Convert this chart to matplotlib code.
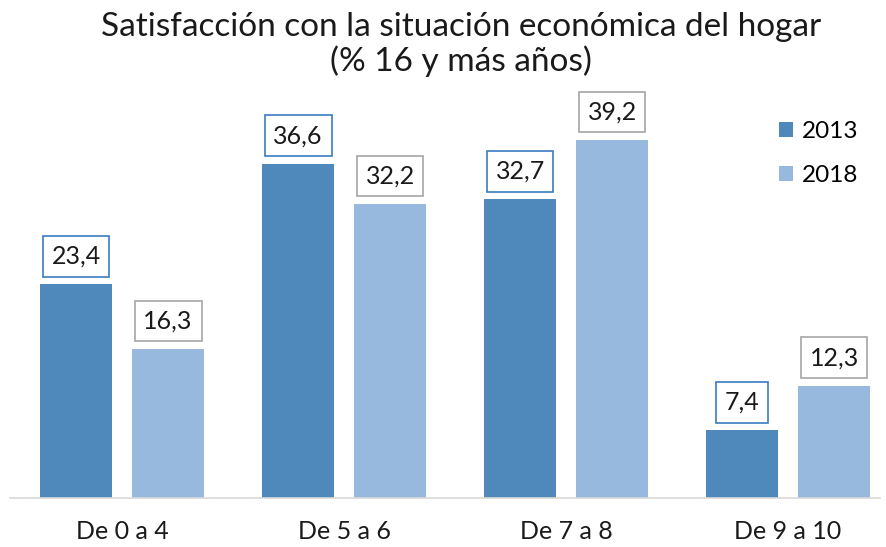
import matplotlib
matplotlib.use("Agg")
import matplotlib.pyplot as plt
import numpy as np

# datos
categorias = ["De 0 a 4", "De 5 a 6", "De 7 a 8", "De 9 a 10"]
valores_2013 = [23.4, 36.6, 32.7, 7.4]
valores_2018 = [16.3, 32.2, 39.2, 12.3]
series = ["2013", "2018"]

plt.rcParams['font.family'] = ['Lato', 'DejaVu Sans']

color_2013 = "#4f88bb"
color_2018 = "#97b9de"

fig = plt.figure(figsize=(8.86, 5.47), dpi=100)
ax = fig.add_axes([10 / 886, 1 - 498 / 547, 870 / 886, 411 / 547])

x = np.arange(len(categorias))
ancho = 72 / 222
sep = 92 / 222 / 2

b1 = ax.bar(x - sep, valores_2013, ancho, color=color_2013, label=series[0])
b2 = ax.bar(x + sep, valores_2018, ancho, color=color_2018, label=series[1])

def etiquetas(barras, borde):
    for r in barras:
        h = r.get_height()
        ax.annotate(f"{h:.1f}".replace(".", ","),
                    (r.get_x() + r.get_width() / 2, h),
                    xytext=(0, 28), textcoords="offset pixels",
                    ha="center", va="center", fontsize=18, color="#1a1a1a",
                    bbox=dict(boxstyle="square,pad=0.35", fc="white", ec=borde, lw=1.2))

etiquetas(b1, "#3a7cc0")
etiquetas(b2, "#a6a6a6")

ax.set_xlim(-0.505, 3.414)
ax.set_ylim(0, 45)
ax.set_xticks(x)
ax.set_xticklabels(categorias, fontsize=18, color="#1a1a1a")
ax.tick_params(axis="x", length=0, pad=16)
ax.set_yticks([])
for s in ["top", "right", "left"]:
    ax.spines[s].set_visible(False)
ax.spines["bottom"].set_color("#d9d9d9")
ax.spines["bottom"].set_linewidth(1.2)

ax.legend(loc="upper right", bbox_to_anchor=(1.0, 0.97), frameon=False, fontsize=17.5,
          handlelength=0.6, handleheight=0.6, handletextpad=0.35, labelspacing=0.95)

fig.suptitle("Satisfacción con la situación económica del hogar\n(% 16 y más años)",
             x=0.52, y=0.978, fontsize=24, color="#1a1a1a", linespacing=1.15)

plt.savefig("out.png", dpi=100)
